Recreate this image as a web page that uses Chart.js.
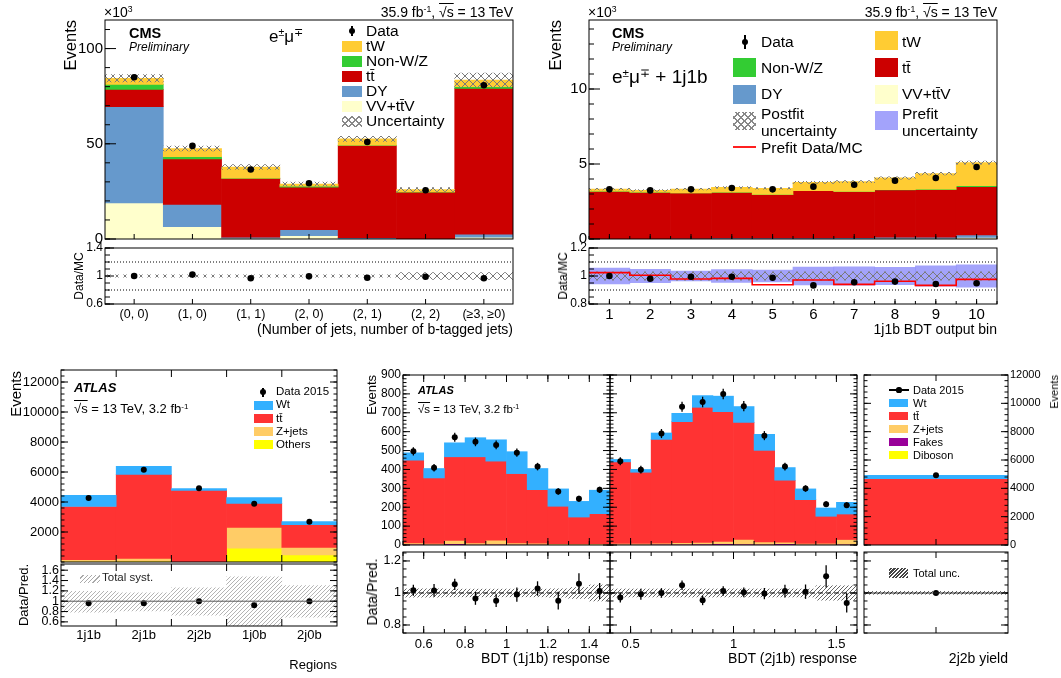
<!DOCTYPE html>
<html>
<head>
<meta charset="utf-8">
<script src="https://cdn.jsdelivr.net/npm/chart.js@4.4.1/dist/chart.umd.min.js"></script>
<style>
body { margin:0; background:#fff; }
#page { position:relative; width:1061px; height:678px; overflow:hidden; font-family:'Liberation Sans', Arial, Helvetica, sans-serif; color:#000; }
.box { position:absolute; }
.t { position:absolute; white-space:nowrap; line-height:1; }
.sw { position:absolute; }
sup { font-size:0.62em; vertical-align:0.55em; line-height:0; }
.ov { text-decoration:overline; }
</style>
</head>
<body>
<div id="page"></div>
<script>
// ---- CMS, e mu, jet / b-jet multiplicity (x10^3 events) ----
const cmsLabels = ['(0, 0)', '(1, 0)', '(1, 1)', '(2, 0)', '(2, 1)', '(2, 2)', '(≥3, ≥0)'];
const cmsVV    = [18.9, 6.5, 0.4, 1.8, 0.2, 0.05, 1.0];
const cmsDY    = [50.6, 11.7, 0.5, 3.1, 0.5, 0.15, 1.6];
const cmsTT    = [9.1, 23.9, 30.9, 22.3, 48.4, 24.4, 76.5];
const cmsNonWZ = [2.6, 1.1, 0.2, 0.5, 0.2, 0.1, 0.9];
const cmsTW    = [3.2, 4.3, 5.8, 1.2, 3.3, 1.3, 3.5];
const cmsData  = [84.9, 48.9, 36.5, 29.3, 50.9, 25.6, 80.7];
const cmsUnc   = [1.9, 1.3, 1.3, 1.0, 1.3, 1.0, 3.6];
const cmsRatio = [1.0, 1.02, 0.967, 0.995, 0.976, 0.99, 0.967];
const cmsRatioUnc = [0.015, 0.015, 0.015, 0.015, 0.015, 0.05, 0.05];

// ---- CMS, 1j1b BDT output bins (x10^3 events) ----
const bdtBins  = [1, 2, 3, 4, 5, 6, 7, 8, 9, 10];
const bdtVV    = [0.01, 0.01, 0.01, 0.02, 0.02, 0.02, 0.03, 0.04, 0.04, 0.1];
const bdtDY    = [0.02, 0.02, 0.03, 0.05, 0.05, 0.05, 0.06, 0.08, 0.09, 0.18];
const bdtTT    = [3.15, 3.08, 3.03, 3.04, 2.89, 3.15, 3.07, 3.15, 3.16, 3.21];
const bdtNonWZ = [0.01, 0.01, 0.01, 0.01, 0.01, 0.01, 0.02, 0.02, 0.03, 0.07];
const bdtTW    = [0.14, 0.12, 0.25, 0.32, 0.41, 0.55, 0.64, 0.78, 1.04, 1.53];
const bdtData  = [3.31, 3.24, 3.31, 3.40, 3.31, 3.49, 3.62, 3.89, 4.07, 4.80];
const bdtUnc   = [0.05, 0.05, 0.05, 0.05, 0.05, 0.07, 0.07, 0.08, 0.08, 0.1];
const bdtRatio = [1.0, 0.98, 0.995, 0.995, 0.988, 0.933, 0.955, 0.96, 0.943, 0.948];
const bdtPrefit = [1.024, 1.005, 0.979, 0.983, 0.938, 0.971, 0.94, 0.962, 0.933, 0.976];
const bdtPrefitUnc = [0.057, 0.048, 0.035, 0.045, 0.043, 0.063, 0.065, 0.062, 0.072, 0.08];
const bdtPostUnc = [0.03, 0.03, 0.03, 0.03, 0.03, 0.03, 0.03, 0.03, 0.03, 0.03];

// ---- ATLAS, control regions ----
const regLabels = ['1j1b', '2j1b', '2j2b', '1j0b', '2j0b'];
const regOthers = [40, 60, 15, 920, 470];
const regZjets  = [110, 180, 15, 1390, 510];
const regTT     = [3550, 5600, 4750, 1600, 1510];
const regWt     = [750, 530, 110, 380, 200];
const regData   = [4260, 6150, 4910, 3890, 2690];
const regRatio  = [0.96, 0.96, 1.0, 0.92, 1.0];
const regSystUp = [1.19, 1.16, 1.26, 1.47, 1.30];
const regSystDn = [0.79, 0.81, 0.73, 0.50, 0.69];

// ---- ATLAS, BDT (1j1b) response ----
const b1X     = [0.55, 0.65, 0.75, 0.85, 0.95, 1.05, 1.15, 1.25, 1.35, 1.45];
const b1Fakes = [3, 2, 6, 2, 3, 2, 2, 1, 1, 1];
const b1Zjets = [7, 6, 17, 8, 22, 8, 7, 5, 4, 5];
const b1TT    = [438, 346, 443, 456, 418, 367, 283, 198, 142, 159];
const b1Wt    = [39, 50, 74, 101, 113, 116, 112, 92, 83, 124];
const b1Data  = [496, 409, 570, 546, 530, 489, 415, 283, 245, 292];
const b1Err   = [22, 20, 24, 23, 23, 22, 20, 17, 16, 17];
const b1Ratio = [1.017, 1.016, 1.054, 0.966, 0.952, 0.99, 1.028, 0.952, 1.058, 1.012];
const b1RatioErr = [0.035, 0.04, 0.035, 0.04, 0.04, 0.045, 0.045, 0.055, 0.065, 0.05];
const b1Band  = [0.026, 0.026, 0.024, 0.024, 0.024, 0.024, 0.024, 0.026, 0.034, 0.05];

// ---- ATLAS, BDT (2j1b) response ----
const b2X     = [0.45, 0.55, 0.65, 0.75, 0.85, 0.95, 1.05, 1.15, 1.25, 1.35, 1.45, 1.55];
const b2Fakes = [2, 2, 3, 3, 4, 6, 4, 3, 6, 2, 2, 3];
const b2Zjets = [5, 5, 6, 8, 8, 12, 25, 12, 8, 6, 6, 25];
const b2TT    = [432, 377, 549, 641, 716, 687, 619, 485, 328, 231, 143, 135];
const b2Wt    = [13, 15, 34, 44, 62, 82, 84, 85, 67, 57, 44, 62];
const b2Data  = [443, 399, 590, 732, 757, 799, 735, 579, 415, 299, 216, 211];
const b2Err   = [21, 20, 24, 27, 28, 28, 27, 24, 20, 17, 15, 15];
const b2Ratio = [0.971, 0.992, 1.0, 1.048, 0.954, 1.012, 1.004, 0.996, 1.012, 1.008, 1.104, 0.938];
const b2RatioErr = [0.03, 0.035, 0.03, 0.03, 0.03, 0.03, 0.03, 0.035, 0.04, 0.045, 0.07, 0.06];
const b2Band  = [0.025, 0.025, 0.025, 0.025, 0.025, 0.025, 0.025, 0.025, 0.025, 0.025, 0.045, 0.045];

// ---- ATLAS, 2j2b yield ----
const y2Labels = [''];
const y2Zjets = [30];
const y2TT    = [4650];
const y2Wt    = [235];
const y2Data  = [4918];
const y2Ratio = [1.0];
const y2Band  = [0.008];

const F = "'Liberation Sans', Arial, Helvetica, sans-serif";
const page = document.getElementById('page');

// hatch fills
function hatch(kind) {
  const c = document.createElement('canvas');
  const s = kind === 'cross' ? 8 : 4;
  c.width = c.height = s;
  const g = c.getContext('2d');
  g.lineWidth = 1;
  g.beginPath();
  if (kind === 'cross') {
    g.strokeStyle = '#7a7a7a';
    g.moveTo(0, 0); g.lineTo(s, s); g.moveTo(s, 0); g.lineTo(0, s);
  } else {
    g.strokeStyle = kind === 'dark' ? '#333' : kind === 'light' ? '#b4b4b4' : '#666';
    g.moveTo(0, s); g.lineTo(s, 0);
    g.moveTo(-1, 1); g.lineTo(1, -1);
    g.moveTo(s - 1, s + 1); g.lineTo(s + 1, s - 1);
  }
  g.stroke();
  return g.createPattern(c, 'repeat');
}
const CROSS = hatch('cross'), DIAG = hatch('diag'), DARK = hatch('dark'), LIGHT = hatch('light');

// ROOT-like frame, inward ticks, reference lines and error bars
const rootAxes = {
  id: 'rootAxes',
  afterDatasetsDraw(chart, args, o) {
    const { ctx, chartArea: a } = chart;
    const xs = chart.scales.x, ys = chart.scales.y;
    const line = (x1, y1, x2, y2) => { ctx.beginPath(); ctx.moveTo(x1, y1); ctx.lineTo(x2, y2); ctx.stroke(); };
    ctx.save();
    (o.hlines || []).forEach(h => {
      ctx.strokeStyle = h.color || '#000';
      ctx.lineWidth = h.width || 1;
      ctx.setLineDash(h.dash || []);
      const py = ys.getPixelForValue(h.v);
      line(a.left, py, a.right, py);
    });
    ctx.setLineDash([]);
    chart.data.datasets.forEach((ds, di) => {
      if (!ds.errs) return;
      const meta = chart.getDatasetMeta(di);
      ctx.strokeStyle = '#000';
      ctx.lineWidth = 1.3;
      meta.data.forEach((p, i) => {
        const v = ds.data[i], val = typeof v === 'object' ? v.y : v;
        line(p.x, ys.getPixelForValue(val - ds.errs[i]), p.x, ys.getPixelForValue(val + ds.errs[i]));
      });
    });
    ctx.strokeStyle = '#000';
    ctx.lineWidth = 1;
    const sides = o.sides || 'lb';
    const yt = (v, len) => {
      const py = ys.getPixelForValue(v);
      if (py < a.top - 0.5 || py > a.bottom + 0.5) return;
      if (sides.includes('l')) line(a.left, py, a.left + len, py);
      if (sides.includes('r')) line(a.right, py, a.right - len, py);
    };
    const xt = (px, len) => {
      if (px < a.left - 0.5 || px > a.right + 0.5) return;
      if (sides.includes('b')) line(px, a.bottom, px, a.bottom - len);
      if (sides.includes('t')) line(px, a.top, px, a.top + len);
    };
    if (o.yMinor) {
      for (let k = Math.ceil(ys.min / o.yMinor - 1e-6); k * o.yMinor <= ys.max + 1e-6; k++) yt(k * o.yMinor, o.yMin || 4);
    }
    ys.ticks.forEach(t => yt(t.value, o.yMaj || 8));
    if (o.xMinor) {
      for (let k = Math.ceil(xs.min / o.xMinor - 1e-6); k * o.xMinor <= xs.max + 1e-6; k++) xt(xs.getPixelForValue(k * o.xMinor), o.xMin || 3);
    }
    if (o.xEdges) {
      // category bin edges
      for (let i = 1; i < xs.ticks.length; i++) xt(xs.getPixelForValue(i - 0.5), o.xMaj || 6);
    } else {
      xs.ticks.forEach((t, i) => xt(xs.getPixelForTick(i), o.xMaj || 6));
    }
    ctx.lineWidth = o.frame || 1;
    ctx.strokeRect(a.left, a.top, a.width, a.height);
    ctx.restore();
  }
};

function sum(arrs) { return arrs[0].map((_, i) => arrs.reduce((s, a) => s + a[i], 0)); }
function bar(xs, lo, hi, color) {
  return { type: 'bar', data: lo.map((v, i) => xs ? { x: xs[i], y: [v, hi[i]] } : [v, hi[i]]),
    backgroundColor: color, borderWidth: 0, grouped: false, barPercentage: 1, categoryPercentage: 1 };
}
function stack(xs, comps, colors) {
  let base = comps[0].map(() => 0);
  return comps.map((vals, k) => {
    const lo = base;
    base = base.map((b, i) => b + vals[i]);
    return bar(xs, lo, base, colors[k]);
  }).reverse();
}
function band(xs, mid, unc, fill) {
  return bar(xs, mid.map((m, i) => m - unc[i]), mid.map((m, i) => m + unc[i]), fill);
}
function pts(xs, ys, errs, r) {
  return { type: 'line', data: ys.map((v, i) => xs ? { x: xs[i], y: v } : v), showLine: false,
    pointRadius: r || 3, pointBackgroundColor: '#000', pointBorderWidth: 0, errs };
}

function panel(box, datasets, o) {
  const pad = 12;
  const yl = box.yl || 0, yr = box.yr || 0, xb = box.xb || 0;
  const d = document.createElement('div');
  d.className = 'box';
  d.style.left = (box.l - yl - pad) + 'px';
  d.style.top = (box.t - pad) + 'px';
  d.style.width = (box.r - box.l + yl + yr + 2 * pad) + 'px';
  d.style.height = (box.b - box.t + xb + 2 * pad) + 'px';
  const c = document.createElement('canvas');
  d.appendChild(c);
  page.appendChild(d);
  const x = {
    type: o.labels ? 'category' : 'linear', offset: !!o.labels,
    grid: { display: false, drawTicks: false }, border: { display: false },
    ticks: { display: !!o.xShow, color: '#000', font: { family: F, size: o.xSize || 12 }, padding: o.xPad || 3, maxRotation: 0, autoSkip: false },
    afterFit: s => { s.height = xb; }
  };
  if (!o.labels) {
    x.min = o.xMin; x.max = o.xMax;
    x.afterBuildTicks = s => { s.ticks = o.xTicks.map(v => ({ value: v })); };
    x.ticks.callback = v => String(v);
  }
  const y = {
    type: 'linear', position: yr ? 'right' : 'left', min: o.yMin, max: o.yMax,
    grid: { display: false, drawTicks: false }, border: { display: false },
    afterBuildTicks: s => { s.ticks = o.yTicks.map(v => ({ value: v })); },
    ticks: { display: !!o.yShow, color: '#000', font: { family: F, size: o.ySize || 12 }, padding: o.yPad || 3, autoSkip: false, callback: v => String(v) },
    afterFit: s => { s.width = yl || yr; }
  };
  return new Chart(c, {
    type: 'bar',
    data: { labels: o.labels, datasets },
    options: {
      responsive: true, maintainAspectRatio: false, animation: false, events: [],
      layout: { padding: pad },
      scales: { x, y },
      plugins: { legend: { display: false }, tooltip: { enabled: false }, rootAxes: o.axes || {} }
    },
    plugins: [rootAxes]
  });
}

// ---------------- CMS left ----------------
const cmsTot = sum([cmsVV, cmsDY, cmsTT, cmsNonWZ, cmsTW]);
panel({ l: 105, t: 20, r: 513, b: 239, yl: 40 }, [
  pts(null, cmsData, null, 3.3),
  band(null, cmsTot, cmsUnc, CROSS),
  ...stack(null, [cmsVV, cmsDY, cmsTT, cmsNonWZ, cmsTW], ['#ffffcc', '#6699cc', '#cc0000', '#33cc33', '#ffcc33'])
], { labels: cmsLabels, yMin: 0, yMax: 115, yTicks: [0, 50, 100], yShow: true, ySize: 15, yPad: 2,
  axes: { sides: 'lb', yMinor: 10, yMaj: 11, yMin: 5, xMaj: 5 } });
panel({ l: 105, t: 248, r: 513, b: 304, yl: 40, xb: 24 }, [
  pts(null, cmsRatio, null, 3.3),
  band(null, cmsRatio.map(() => 1), cmsRatioUnc, CROSS)
], { labels: cmsLabels, xShow: true, xSize: 12.5, xPad: 3, yMin: 0.6, yMax: 1.4, yTicks: [0.6, 1, 1.4], yShow: true, ySize: 12, yPad: 2,
  axes: { sides: 'lb', yMinor: 0.1, yMaj: 9, yMin: 5, xMaj: 5, hlines: [{ v: 1.2, dash: [1, 2] }, { v: 0.8, dash: [1, 2] }] } });

// ---------------- CMS right ----------------
const bdtTot = sum([bdtVV, bdtDY, bdtTT, bdtNonWZ, bdtTW]);
panel({ l: 589, t: 20, r: 997, b: 239, yl: 40 }, [
  pts(bdtBins, bdtData, null, 3.3),
  band(bdtBins, bdtTot, bdtUnc, CROSS),
  ...stack(bdtBins, [bdtVV, bdtDY, bdtTT, bdtNonWZ, bdtTW], ['#ffffcc', '#6699cc', '#cc0000', '#33cc33', '#ffcc33'])
], { xMin: 0.5, xMax: 10.5, xTicks: bdtBins, yMin: 0, yMax: 14.6, yTicks: [0, 5, 10], yShow: true, ySize: 15, yPad: 2,
  axes: { sides: 'lb', yMinor: 1, yMaj: 11, yMin: 5, xMaj: 5, xMinor: 0.5, xMin: 3 } });
const stepPts = bdtBins.map((b, i) => ({ x: b - 0.5, y: bdtPrefit[i] }))
  .concat([{ x: bdtBins[bdtBins.length - 1] + 0.5, y: bdtPrefit[bdtPrefit.length - 1] }]);
panel({ l: 589, t: 248, r: 997, b: 304, yl: 40, xb: 24 }, [
  pts(bdtBins, bdtRatio, null, 3.3),
  { type: 'line', data: stepPts, stepped: true, borderColor: '#ff0000', borderWidth: 1.6, pointRadius: 0, fill: false },
  band(bdtBins, bdtRatio.map(() => 1), bdtPostUnc, CROSS),
  band(bdtBins, bdtRatio.map(() => 1), bdtPrefitUnc, 'rgba(140,140,250,0.8)')
], { xMin: 0.5, xMax: 10.5, xTicks: bdtBins, xShow: true, xSize: 15, xPad: 2, yMin: 0.8, yMax: 1.2, yTicks: [0.8, 1, 1.2], yShow: true, ySize: 12, yPad: 2,
  axes: { sides: 'lb', yMinor: 0.05, yMaj: 9, yMin: 5, xMaj: 5, xMinor: 0.5, xMin: 3, hlines: [{ v: 1.1, dash: [1, 2] }, { v: 0.9, dash: [1, 2] }] } });

// ---------------- ATLAS regions ----------------
panel({ l: 61, t: 370, r: 337, b: 562, yl: 50 }, [
  pts(null, regData, null, 3),
  ...stack(null, [regOthers, regZjets, regTT, regWt], ['#ffff00', '#ffcc66', '#ff3333', '#33b0ff'])
], { labels: regLabels, yMin: 0, yMax: 12800, yTicks: [2000, 4000, 6000, 8000, 10000, 12000], yShow: true, ySize: 13, yPad: 2,
  axes: { sides: 'lrbt', yMinor: 400, yMaj: 7, yMin: 3.5, xMaj: 7, xEdges: true } });
panel({ l: 61, t: 564, r: 337, b: 626, yl: 50, xb: 24 }, [
  pts(null, regRatio, null, 3),
  bar(null, regSystDn, regSystUp, LIGHT)
], { labels: regLabels, xShow: true, xSize: 13, xPad: 2, yMin: 0.52, yMax: 1.72, yTicks: [0.6, 0.8, 1, 1.2, 1.4, 1.6], yShow: true, ySize: 12.5, yPad: 2,
  axes: { sides: 'lrbt', yMinor: 0.1, yMaj: 7, yMin: 3.5, xMaj: 7, xEdges: true, hlines: [{ v: 1, color: '#555' }] } });

// ---------------- ATLAS BDT (1j1b) ----------------
const atlasCols = ['#ffff00', '#990099', '#ffcc66', '#ff3333', '#33b0ff'];
const b1Dib = b1X.map(() => 1), b2Dib = b2X.map(() => 1);
panel({ l: 403, t: 375, r: 610, b: 545, yl: 36 }, [
  pts(b1X, b1Data, b1Err, 3),
  ...stack(b1X, [b1Dib, b1Fakes, b1Zjets, b1TT, b1Wt], atlasCols)
], { xMin: 0.5, xMax: 1.5, xTicks: [0.6, 0.8, 1, 1.2, 1.4], yMin: 0, yMax: 900, yTicks: [0, 100, 200, 300, 400, 500, 600, 700, 800, 900], yShow: true, ySize: 12, yPad: 2,
  axes: { sides: 'lrbt', yMinor: 20, yMaj: 7, yMin: 3.5, xMinor: 0.1, xMaj: 7, xMin: 4 } });
panel({ l: 403, t: 552, r: 610, b: 633, yl: 36, xb: 24 }, [
  pts(b1X, b1Ratio, b1RatioErr, 3),
  band(b1X, b1X.map(() => 1), b1Band, DIAG)
], { xMin: 0.5, xMax: 1.5, xTicks: [0.6, 0.8, 1, 1.2, 1.4], xShow: true, xSize: 13, xPad: 4, yMin: 0.75, yMax: 1.256, yTicks: [0.8, 1, 1.2], yShow: true, ySize: 12.5, yPad: 2,
  axes: { sides: 'lrbt', yMinor: 0.05, yMaj: 7, yMin: 3.5, xMinor: 0.1, xMaj: 7, xMin: 4, hlines: [{ v: 1, dash: [5, 3] }] } });

// ---------------- ATLAS BDT (2j1b) ----------------
panel({ l: 610, t: 375, r: 857, b: 545 }, [
  pts(b2X, b2Data, b2Err, 3),
  ...stack(b2X, [b2Dib, b2Fakes, b2Zjets, b2TT, b2Wt], atlasCols)
], { xMin: 0.4, xMax: 1.6, xTicks: [0.5, 1, 1.5], yMin: 0, yMax: 900, yTicks: [0, 100, 200, 300, 400, 500, 600, 700, 800, 900],
  axes: { sides: 'lrbt', yMinor: 20, yMaj: 7, yMin: 3.5, xMinor: 0.1, xMaj: 7, xMin: 4 } });
panel({ l: 610, t: 552, r: 857, b: 633, xb: 24 }, [
  pts(b2X, b2Ratio, b2RatioErr, 3),
  band(b2X, b2X.map(() => 1), b2Band, DIAG)
], { xMin: 0.4, xMax: 1.6, xTicks: [0.5, 1, 1.5], xShow: true, xSize: 13, xPad: 4, yMin: 0.75, yMax: 1.256, yTicks: [0.8, 1, 1.2],
  axes: { sides: 'lrbt', yMinor: 0.05, yMaj: 7, yMin: 3.5, xMinor: 0.1, xMaj: 7, xMin: 4, hlines: [{ v: 1, dash: [5, 3] }] } });

// ---------------- ATLAS 2j2b yield ----------------
panel({ l: 864, t: 375, r: 1008, b: 545, yr: 40 }, [
  pts(null, y2Data, null, 3),
  ...stack(null, [y2Zjets, y2TT, y2Wt], ['#ffcc66', '#ff3333', '#33b0ff'])
], { labels: y2Labels, yMin: 0, yMax: 12000, yTicks: [0, 2000, 4000, 6000, 8000, 10000, 12000], yShow: true, ySize: 11, yPad: 2,
  axes: { sides: 'lrbt', yMinor: 400, yMaj: 7, yMin: 3.5, xMaj: 6 } });
panel({ l: 864, t: 552, r: 1008, b: 633 }, [
  pts(null, y2Ratio, null, 3),
  band(null, y2Ratio.map(() => 1), y2Band, DARK)
], { labels: y2Labels, yMin: 0.75, yMax: 1.256, yTicks: [0.8, 1, 1.2],
  axes: { sides: 'lrbt', yMinor: 0.05, yMaj: 7, yMin: 3.5, xMaj: 6, hlines: [{ v: 1, color: '#222', width: 1.2 }] } });

// ---------------- text and legends ----------------
function txt(html, x, y, size, o = {}) {
  const d = document.createElement('div');
  d.className = 't';
  d.innerHTML = html;
  d.style.fontSize = size + 'px';
  d.style.left = x + 'px';
  d.style.top = (y - size / 2) + 'px';
  if (o.bold) d.style.fontWeight = 'bold';
  if (o.italic) d.style.fontStyle = 'italic';
  if (o.color) d.style.color = o.color;
  let tf = '';
  if (o.align === 'right') tf = 'translateX(-100%)';
  if (o.align === 'center') tf = 'translateX(-50%)';
  if (o.vert) {
    d.style.transformOrigin = '0 0';
    d.style.left = (x - size / 2) + 'px';
    d.style.top = y + 'px';
    tf = 'rotate(-90deg) ' + (o.vert === 'end' ? 'translateX(-100%)' : 'translateX(-50%)');
  }
  d.style.transform = tf;
  page.appendChild(d);
}
function sw(x, y, w, h, bg, extra) {
  const d = document.createElement('div');
  d.className = 'sw';
  d.style.cssText += `left:${x}px;top:${y}px;width:${w}px;height:${h}px;background:${bg};${extra || ''}`;
  page.appendChild(d);
}
function dataMark(cx, cy, r, barH, barW) {
  if (barH) sw(cx - 0.75, cy - barH / 2, 1.5, barH, '#000');
  if (barW) sw(cx - barW / 2, cy - 0.6, barW, 1.2, '#000');
  sw(cx - r, cy - r, 2 * r, 2 * r, '#000', 'border-radius:50%');
}
const crossCss = 'repeating-linear-gradient(45deg, transparent 0 4px, #888 4px 5px), repeating-linear-gradient(-45deg, transparent 0 4px, #888 4px 5px), #fff';
const diagCss = 'repeating-linear-gradient(135deg, #fff 0 2px, #aaa 2px 3px)';
const darkCss = 'repeating-linear-gradient(135deg, #fff 0 1px, #444 1px 2.5px)';
const lumiCms = '35.9 fb<sup>-1</sup>, <span class="ov">√s</span> = 13 TeV';
const tbar = 'tt\u0304';

// CMS left
txt('×10<sup>3</sup>', 104, 12, 14);
txt(lumiCms, 513, 12, 14, { align: 'right' });
txt('Events', 70, 20, 16.5, { vert: 'end' });
txt('Data/MC', 79, 276, 12, { vert: 'center' });
txt('CMS', 129, 33, 14.5, { bold: true });
txt('Preliminary', 129, 47, 12, { italic: true });
txt('e<sup>±</sup>μ<sup>∓</sup>', 269, 36, 17);
txt('(Number of jets, number of b-tagged jets)', 513, 329, 14, { align: 'right' });
dataMark(352, 31, 3.3, 10);
[['tW', '#ffcc33'], ['Non-W/Z', '#33cc33'], [tbar, '#cc0000'], ['DY', '#6699cc'], ['VV+' + tbar + 'V', '#ffffcc'], ['Uncertainty', crossCss]]
  .forEach((r, i) => { const cy = 46 + 15 * i; sw(342, cy - 5.5, 20, 11, r[1]); txt(r[0], 366, cy, 15.5); });
txt('Data', 366, 31, 15.5);

// CMS right
txt('×10<sup>3</sup>', 588, 12, 14);
txt(lumiCms, 997, 12, 14, { align: 'right' });
txt('Events', 555, 20, 16.5, { vert: 'end' });
txt('Data/MC', 563, 276, 12, { vert: 'center' });
txt('CMS', 612, 33, 14.5, { bold: true });
txt('Preliminary', 612, 47, 12, { italic: true });
txt('e<sup>±</sup>μ<sup>∓</sup> + 1j1b', 612, 76, 19);
dataMark(745, 42, 3.3, 14);
txt('Data', 761, 42, 15.5);
sw(733, 58, 23, 19, '#33cc33'); txt('Non-W/Z', 761, 68, 15.5);
sw(733, 85, 23, 19, '#6699cc'); txt('DY', 761, 94, 15.5);
sw(733, 112, 23, 18, crossCss); txt('Postfit', 761, 114, 15.5); txt('uncertainty', 761, 131, 15.5);
sw(733, 146, 23, 2, '#ff2020'); txt('Prefit Data/MC', 761, 148, 15.5);
sw(875, 31, 23, 19, '#ffcc33'); txt('tW', 902, 42, 15.5);
sw(875, 58, 23, 19, '#cc0000'); txt(tbar, 902, 68, 15.5);
sw(875, 85, 23, 19, '#ffffcc'); txt('VV+' + tbar + 'V', 902, 94, 15.5);
sw(875, 111, 23, 19, 'rgba(140,140,250,0.8)'); txt('Prefit', 902, 114, 15.5); txt('uncertainty', 902, 131, 15.5);
txt('1j1b BDT output bin', 997, 329, 14, { align: 'right' });

// ATLAS regions
txt('Events', 15, 371, 15, { vert: 'end' });
txt('Data/Pred.', 23, 595, 13, { vert: 'center' });
txt('ATLAS', 74, 387, 13, { bold: true, italic: true });
txt('<span class="ov">√s</span> = 13 TeV, 3.2 fb<sup>-1</sup>', 74, 408, 13);
dataMark(263, 392, 3, 9);
txt('Data 2015', 276, 392, 11.5);
[['Wt', '#33b0ff'], [tbar, '#ff3333'], ['Z+jets', '#ffcc66'], ['Others', '#ffff00']]
  .forEach((r, i) => { const cy = 405 + 13.3 * i; sw(254, cy - 4.5, 19, 9, r[1]); txt(r[0], 276, cy, 11.5); });
sw(80, 575, 20, 8, diagCss); txt('Total syst.', 102, 578, 11.5, { color: '#222' });
txt('Regions', 337, 664, 13, { align: 'right' });

// ATLAS BDT
txt('Events', 371, 375, 13, { vert: 'end' });
txt('Data/Pred.', 372, 592, 14, { vert: 'center' });
txt('ATLAS', 418, 390, 11, { bold: true, italic: true });
txt('<span class="ov">√s</span> = 13 TeV, 3.2 fb<sup>-1</sup>', 418, 410, 11.5);
txt('BDT (1j1b) response', 610, 658, 14, { align: 'right' });
txt('BDT (2j1b) response', 857, 658, 14, { align: 'right' });

// ATLAS 2j2b
dataMark(899, 390, 2.6, 0, 20);
txt('Data 2015', 913, 390, 11);
[['Wt', '#33b0ff'], [tbar, '#ff3333'], ['Z+jets', '#ffcc66'], ['Fakes', '#990099'], ['Diboson', '#ffff00']]
  .forEach((r, i) => { const cy = 403 + 13 * i; sw(889, cy - 4, 19, 8, r[1]); txt(r[0], 913, cy, 11); });
sw(889, 568, 19, 10, darkCss); txt('Total unc.', 913, 573, 11);
txt('Events', 1054, 375, 11, { vert: 'end' });
txt('2j2b yield', 1008, 658, 14, { align: 'right' });
</script>
</body>
</html>
